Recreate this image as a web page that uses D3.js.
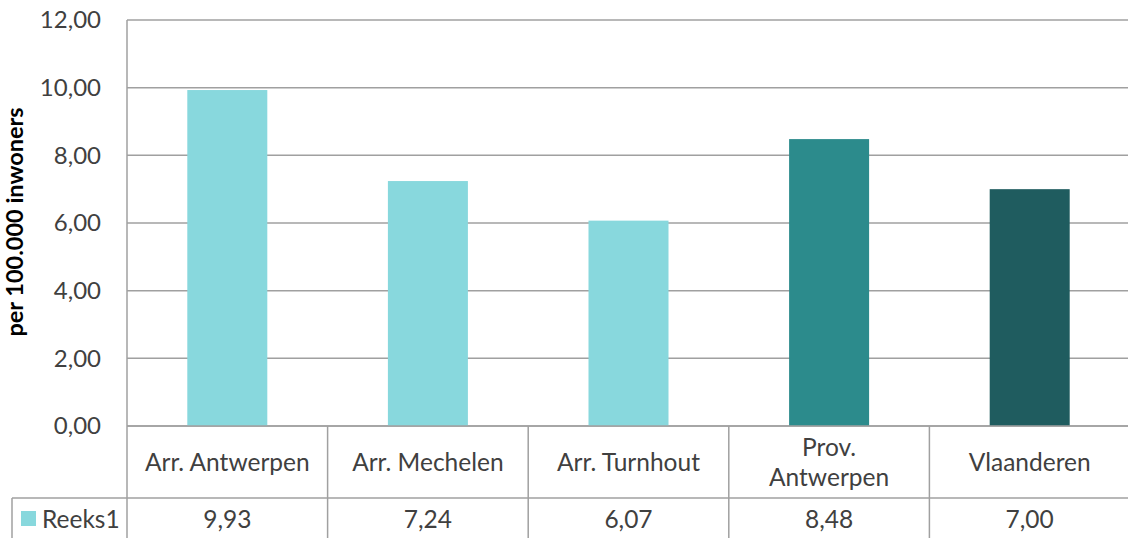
<!DOCTYPE html>
<html>
<head>
<meta charset="utf-8">
<script src="https://cdn.jsdelivr.net/npm/d3@7"></script>
<style>
  body { margin: 0; background: #fff; }
  svg text { font-family: Lato, "Open Sans", sans-serif; fill: #404040; }
</style>
</head>
<body>
<div id="chart"></div>
<script>
var categories = ["Arr. Antwerpen", "Arr. Mechelen", "Arr. Turnhout", "Prov.\nAntwerpen", "Vlaanderen"];
var values = [9.93, 7.24, 6.07, 8.48, 7.00];
var barColors = ["#88d8dd", "#88d8dd", "#88d8dd", "#2c8b8c", "#1f5c5f"];
var yTicks = [0, 2, 4, 6, 8, 10, 12];
var seriesName = "Reeks1";

var W = 1128, H = 538;
var plot = { left: 127, right: 1130, top: 20, bottom: 426 };
var gridColor = "#a0a0a0";
var fontSize = "24.5px";
var fmt = function(v) { return v.toFixed(2).replace(".", ","); };

var svg = d3.select("#chart").append("svg")
    .attr("width", W)
    .attr("height", H);

var x = d3.scaleBand()
    .domain(categories)
    .range([plot.left, plot.right])
    .paddingInner(0)
    .paddingOuter(0);

var y = d3.scaleLinear()
    .domain([0, 12])
    .range([plot.bottom, plot.top]);

// gridlines
svg.append("g")
    .selectAll("line")
    .data(yTicks)
    .enter()
    .append("line")
    .attr("x1", plot.left)
    .attr("x2", plot.right)
    .attr("y1", function(d) { return y(d); })
    .attr("y2", function(d) { return y(d); })
    .attr("stroke", gridColor)
    .attr("stroke-width", 1.5);

// left axis line
svg.append("line")
    .attr("x1", plot.left).attr("x2", plot.left)
    .attr("y1", plot.top).attr("y2", plot.bottom)
    .attr("stroke", gridColor).attr("stroke-width", 1.5);

// tick labels
svg.append("g")
    .selectAll("text")
    .data(yTicks)
    .enter()
    .append("text")
    .attr("x", 101)
    .attr("y", function(d) { return y(d); })
    .attr("dy", "0.35em")
    .attr("text-anchor", "end")
    .style("font-size", "24px")
    .text(fmt);

// y title
svg.append("text")
    .attr("transform", "translate(23,222) rotate(-90)")
    .attr("text-anchor", "middle")
    .style("font-size", "23.5px")
    .style("font-weight", "bold")
    .style("fill", "#000")
    .text("per 100.000 inwoners");

// bars
var barW = 80;
svg.append("g")
    .selectAll("rect")
    .data(values)
    .enter()
    .append("rect")
    .attr("x", function(d, i) { return x(categories[i]) + x.bandwidth() / 2 - barW / 2; })
    .attr("y", function(d) { return y(d); })
    .attr("width", barW)
    .attr("height", function(d) { return y(0) - y(d); })
    .attr("fill", function(d, i) { return barColors[i]; });

// redraw baseline over bars
svg.append("line")
    .attr("x1", plot.left).attr("x2", plot.right)
    .attr("y1", y(0)).attr("y2", y(0))
    .attr("stroke", gridColor).attr("stroke-width", 1.5);

// data table
var rowTop = plot.bottom, rowMid = 498, rowBot = 545, legendLeft = 12;
var table = svg.append("g");

categories.forEach(function(c, i) {
    table.append("line")
        .attr("x1", x(c)).attr("x2", x(c))
        .attr("y1", rowTop).attr("y2", rowBot)
        .attr("stroke", gridColor).attr("stroke-width", 1.5);
});
table.append("line")
    .attr("x1", plot.right).attr("x2", plot.right)
    .attr("y1", rowTop).attr("y2", rowBot)
    .attr("stroke", gridColor).attr("stroke-width", 1.5);
table.append("line")
    .attr("x1", legendLeft).attr("x2", plot.right)
    .attr("y1", rowMid).attr("y2", rowMid)
    .attr("stroke", gridColor).attr("stroke-width", 1.5);
table.append("line")
    .attr("x1", legendLeft).attr("x2", legendLeft)
    .attr("y1", rowMid).attr("y2", rowBot)
    .attr("stroke", gridColor).attr("stroke-width", 1.5);

// category labels
categories.forEach(function(c) {
    var lines = c.split("\n");
    var cx = x(c) + x.bandwidth() / 2;
    var cy = (rowTop + rowMid) / 2;
    var t = table.append("text")
        .attr("text-anchor", "middle")
        .style("font-size", fontSize);
    lines.forEach(function(l, j) {
        t.append("tspan")
            .attr("x", cx)
            .attr("y", cy + (j - (lines.length - 1) / 2) * 30)
            .attr("dy", "0.35em")
            .text(l);
    });
});

// value row
values.forEach(function(v, i) {
    table.append("text")
        .attr("x", x(categories[i]) + x.bandwidth() / 2)
        .attr("y", 519)
        .attr("dy", "0.35em")
        .attr("text-anchor", "middle")
        .style("font-size", fontSize)
        .text(fmt(v));
});

// legend cell
table.append("rect")
    .attr("x", 21).attr("y", 511)
    .attr("width", 15).attr("height", 15)
    .attr("fill", barColors[0]);
table.append("text")
    .attr("x", 42)
    .attr("y", 519)
    .attr("dy", "0.35em")
    .style("font-size", fontSize)
    .text(seriesName);
</script>
</body>
</html>
